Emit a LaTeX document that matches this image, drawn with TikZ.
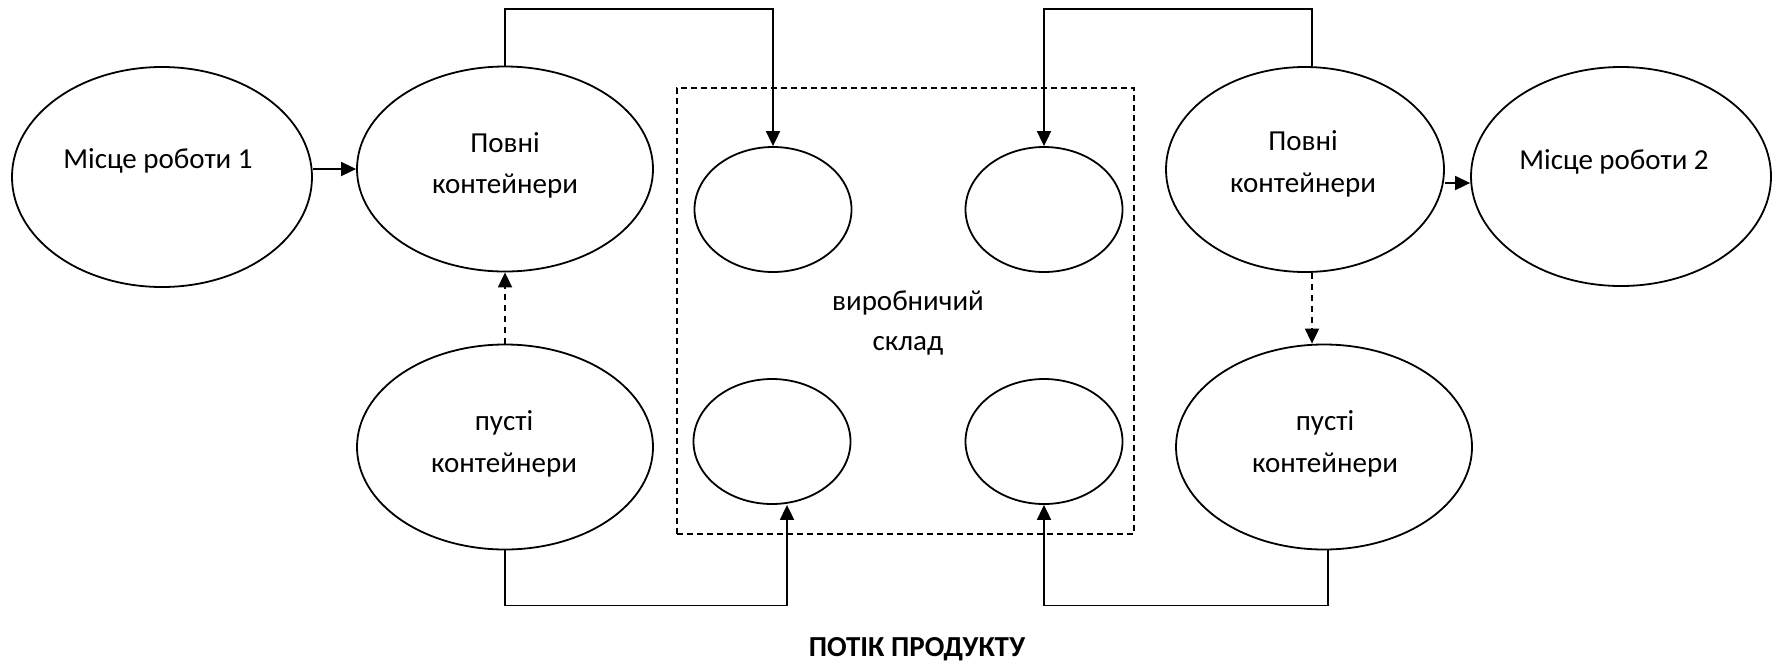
\documentclass[tikz,border=0pt]{standalone}
\usepackage{fontspec}
\setmainfont{Carlito}
\usetikzlibrary{arrows.meta,shapes.geometric}
\begin{document}
\begin{tikzpicture}[x=1pt,y=-1pt,
  oval/.style={draw, ellipse, line width=1.8pt, inner sep=0pt},
  small/.style={oval, minimum width=157pt, minimum height=125pt},
  big/.style={oval, minimum width=296pt, minimum height=205pt},
  lbl/.style={anchor=base, inner sep=0pt, font=\fontsize{29}{35}\selectfont},
  flow/.style={line width=1.8pt, -{Triangle[length=15pt,width=14pt]}},
  ret/.style={flow, dash pattern=on 6pt off 5pt},
]
\useasboundingbox[fill=white] (0,0) rectangle (1775,665);
% storage box
\node[draw, line width=1.8pt, dash pattern=on 6pt off 4pt, inner sep=0pt,
      minimum width=457pt, minimum height=446pt] (store) at (905.5,311) {};
% ellipses
\node[oval, minimum width=300pt, minimum height=220pt] (m1) at (162,177) {};
\node[big] (pl) at (505,169) {};
\node[big] (pel) at (505,447) {};
\node[small] (stl) at (773,209.5) {};
\node[small] (str) at (1044,209.5) {};
\node[small] (sbl) at (772,441.5) {};
\node[small] (sbr) at (1044,441.5) {};
\node[oval, minimum width=278pt, minimum height=205pt] (pr) at (1305,169.5) {};
\node[big] (per) at (1324,447) {};
\node[oval, minimum width=300pt, minimum height=219pt] (m2) at (1621,176.5) {};
% labels
\node[lbl] (m1a) at (158,168) {Місце роботи 1};
\node[lbl] (pla) at (505,152) {Повні};
\node[lbl] (plb) at (505,193) {контейнери};
\node[lbl] (pela) at (504,430) {пусті};
\node[lbl] (pelb) at (504,472) {контейнери};
\node[lbl] (sk1) at (908,310) {виробничий};
\node[lbl] (sk2) at (908,350) {склад};
\node[lbl] (pra) at (1303,150) {Повні};
\node[lbl] (prb) at (1303,192) {контейнери};
\node[lbl] (pera) at (1325,430) {пусті};
\node[lbl] (perb) at (1325,472) {контейнери};
\node[lbl] (m2a) at (1614,169) {Місце роботи 2};
\node[lbl, font=\fontsize{29}{35}\selectfont\bfseries] (title) at (917,656) {ПОТІК ПРОДУКТУ};
% connectors
\draw[flow] (pl.west -| m1.east) -- (pl.west);
\draw[flow] ([yshift=-13.5pt]pr.east) -- ([yshift=-13.5pt]pr.east -| m2.west);
\draw[flow] (pl.north) -- ++(0,-57) -| (stl.north);
\draw[flow] ([xshift=7pt]pr.north) -- ++(0,-57) -| (str.north);
\draw[ret] (pel.north) -- (pl.south);
\draw[ret] ([xshift=7pt]pr.south) -- ([xshift=7pt]pr.south |- per.north);
\draw[flow] (pel.south) -- ++(0,55) -| ([xshift=15pt]sbl.south);
\draw[flow] ([xshift=4pt]per.south) -- ++(0,55) -| (sbr.south);
\end{tikzpicture}
\end{document}
